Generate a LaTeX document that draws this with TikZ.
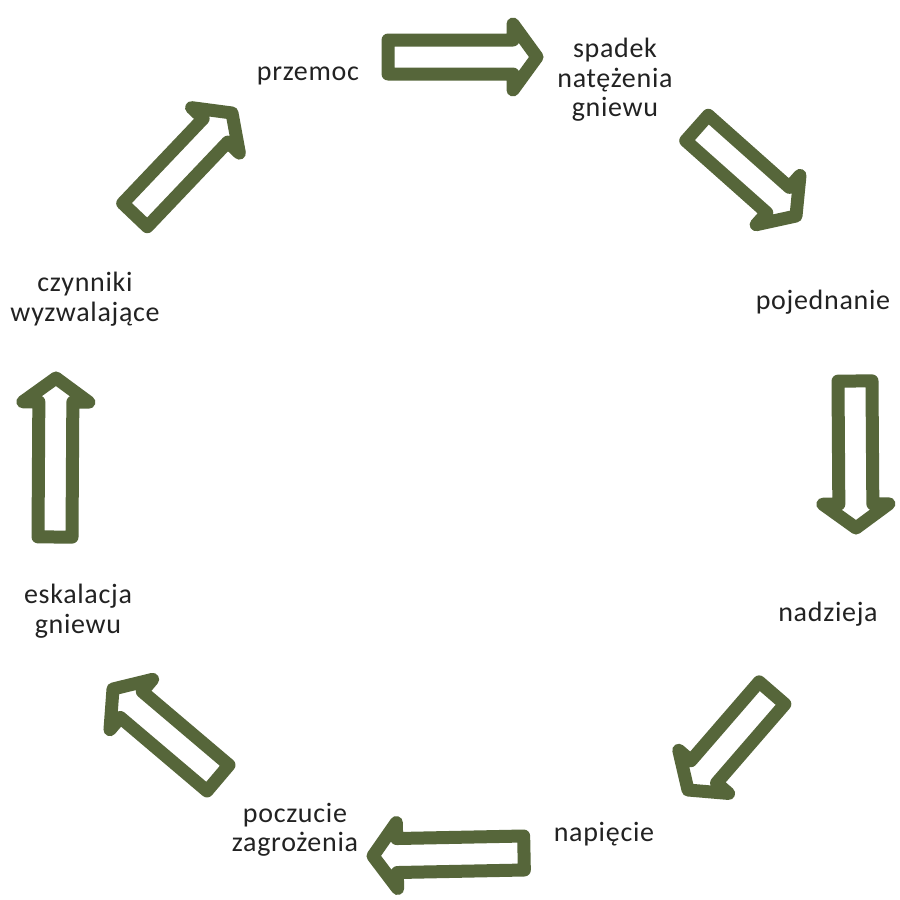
\documentclass[tikz,border=0pt]{standalone}
\usepackage{fontspec}
\setmainfont{Carlito}[LetterSpace=2.5]
\usetikzlibrary{calc}
\definecolor{olive}{RGB}{86,102,58}
\definecolor{ink}{RGB}{34,34,34}
\newcommand{\bw}{17pt}
\newcommand{\hw}{33pt}
\newcommand{\hl}{24pt}
\newcommand{\blockarr}[2]{%
  \coordinate (hb) at ($(#2)!\hl!(#1)$);
  \draw[barrow] ($(#1)!\bw!90:(#2)$) -- ($(hb)!\bw!-90:(#1)$) -- ($(hb)!\hw!-90:(#1)$) -- (#2)
    -- ($(hb)!\hw!90:(#1)$) -- ($(hb)!\bw!90:(#1)$) -- ($(#1)!\bw!-90:(#2)$) -- cycle;
}
\tikzset{
  barrow/.style={draw=olive, fill=white, line width=13pt, line join=round},
  lab/.style={text=ink, align=center, inner sep=0pt, font=\fontsize{28}{29.5}\selectfont},
}
\begin{document}
\begin{tikzpicture}[x=1pt, y=-1pt]
\useasboundingbox[fill=white] (0,0) rectangle (900,900);
% labels
\node[lab] (przemoc) at (308,76) {przemoc};
\node[lab] (spadek) at (615,80) {spadek\\natężenia\\gniewu};
\node[lab] (pojednanie) at (823,302) {pojednanie};
\node[lab] (nadzieja) at (828,614) {nadzieja};
\node[lab] (napiecie) at (604,834) {napięcie};
\node[lab] (poczucie) at (295,830) {poczucie\\zagrożenia};
\node[lab] (eskalacja) at (78,611) {eskalacja\\gniewu};
\node[lab] (czynniki) at (85,299) {czynniki\\wyzwalające};
% arrow end points
\coordinate (a1t) at (388,57);  \coordinate (a1h) at (537,57);
\coordinate (a2t) at (697,128); \coordinate (a2h) at (796,216);
\coordinate (a3t) at (855,381); \coordinate (a3h) at (856,528);
\coordinate (a4t) at (772,693); \coordinate (a4h) at (688,790);
\coordinate (a5t) at (524,853); \coordinate (a5h) at (373,856);
\coordinate (a6t) at (218,778); \coordinate (a6h) at (113,689);
\coordinate (a7t) at (55,537);  \coordinate (a7h) at (56,378);
\coordinate (a8t) at (135,215); \coordinate (a8h) at (232,113);
\blockarr{a1t}{a1h}
\blockarr{a2t}{a2h}
\blockarr{a3t}{a3h}
\blockarr{a4t}{a4h}
\blockarr{a5t}{a5h}
\blockarr{a6t}{a6h}
\blockarr{a7t}{a7h}
\blockarr{a8t}{a8h}
\end{tikzpicture}
\end{document}
